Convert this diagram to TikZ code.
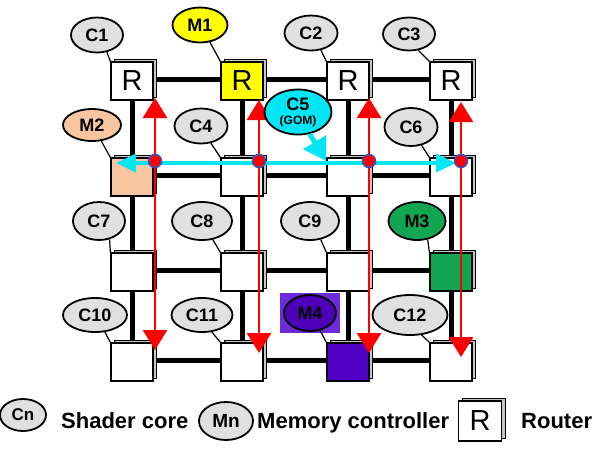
\documentclass[tikz,border=0pt]{standalone}
\usepackage{fontspec}
\setmainfont{Liberation Sans}
\usetikzlibrary{arrows.meta,shapes.geometric,shadows,backgrounds}
\definecolor{lgray}{HTML}{E0E0E0}
\definecolor{myyellow}{HTML}{FFFF00}
\definecolor{peach}{HTML}{F7C59F}
\definecolor{mycyan}{HTML}{00E6F5}
\definecolor{mygreen}{HTML}{12A552}
\definecolor{mypurple}{HTML}{5200C4}
\definecolor{sqpurple}{HTML}{6B2BD9}
\definecolor{elpurple}{HTML}{4D00B8}
\definecolor{dotblue}{HTML}{3355CC}
\begin{document}
\begin{tikzpicture}[x=1pt,y=-1pt,
  rbox/.style={draw=black,line width=1.3pt,fill=white,minimum width=42pt,minimum height=38pt,inner sep=0pt,
    general shadow={shadow xshift=3.5pt,shadow yshift=3pt,fill=gray!45,draw=black,line width=1pt},
    font=\fontsize{29}{29}\selectfont},
  lbl/.style={ellipse,draw=black,line width=1.8pt,fill=lgray,inner sep=0pt,font=\bfseries\fontsize{18}{19}\selectfont},
  tail/.style={black,line width=1.2pt},
  link/.style={line width=5pt,black},
  redarr/.style={red,line width=2.8pt,-{Triangle[width=24pt,length=20pt]}},
  cyanarr/.style={mycyan,line width=3.5pt,{Triangle[width=18pt,length=20pt]}-{Triangle[width=18pt,length=20pt]}},
  dot/.style={circle,fill=red,draw=dotblue,line width=1.5pt,minimum size=13pt,inner sep=0pt},
  legtext/.style={anchor=base west,inner sep=0pt,font=\bfseries\fontsize{22}{22}\selectfont}
]
\useasboundingbox (0,0) rectangle (602,448);

% routers
\node[rbox] (r11) at (132,81) {R};
\node[rbox,fill=myyellow] (r12) at (242,81) {R};
\node[rbox] (r13) at (348,81) {R};
\node[rbox] (r14) at (451,81) {R};
\node[rbox,fill=peach] (r21) at (132,177) {};
\node[rbox] (r22) at (242,177) {};
\node[rbox] (r23) at (348,177) {};
\node[rbox] (r24) at (451,177) {};
\node[rbox] (r31) at (132,272) {};
\node[rbox] (r32) at (242,272) {};
\node[rbox] (r33) at (348,272) {};
\node[rbox,fill=mygreen] (r34) at (451,272) {};
\node[rbox] (r41) at (132,362) {};
\node[rbox] (r42) at (242,362) {};
\node[rbox,fill=mypurple] (r43) at (348,362) {};
\node[rbox] (r44) at (451,362) {};

% links
\begin{scope}[on background layer]
  \foreach \r in {1,2,3,4}{
    \draw[link] ([yshift=2pt]r\r1.center) -- ([yshift=2pt]r\r2.center) -- ([yshift=2pt]r\r3.center) -- ([yshift=2pt]r\r4.center);
  }
  \foreach \c in {1,2,3,4}{
    \draw[link] (r1\c.center) -- (r2\c.center) -- (r3\c.center) -- (r4\c.center);
  }
\end{scope}

% labels
\node[lbl,minimum width=52pt,minimum height=35pt] (c1) at (97,35) {C1};
\node[lbl,minimum width=55pt,minimum height=35pt,fill=myyellow] (m1) at (200,25) {M1};
\node[lbl,minimum width=53pt,minimum height=35pt] (c2) at (311,33) {C2};
\node[lbl,minimum width=52pt,minimum height=33pt] (c3) at (409,34) {C3};
\node[lbl,minimum width=58pt,minimum height=32pt,fill=peach] (m2) at (92,125) {M2};
\node[lbl,minimum width=53pt,minimum height=35pt] (c4) at (201,126) {C4};
\node[lbl,minimum width=53pt,minimum height=38pt] (c6) at (411,127) {C6};
\node[lbl,minimum width=52pt,minimum height=38pt] (c7) at (99,221) {C7};
\node[lbl,minimum width=60pt,minimum height=38pt] (c8) at (202,221) {C8};
\node[lbl,minimum width=58pt,minimum height=38pt] (c9) at (310,221) {C9};
\node[lbl,minimum width=57pt,minimum height=38pt,fill=mygreen] (m3) at (417,221) {M3};
\node[lbl,minimum width=64pt,minimum height=34pt] (c10) at (95,315) {C10};
\node[lbl,minimum width=61pt,minimum height=34pt] (c11) at (202,315) {C11};
\node[fill=sqpurple,minimum width=60pt,minimum height=40pt,inner sep=0pt] (m4sq) at (310,313) {};
\node[lbl,minimum width=52pt,minimum height=36pt,fill=elpurple] (m4) at (310,313) {M4};
\node[lbl,minimum width=75pt,minimum height=40pt] (c12) at (410,315) {C12};

% tails
\draw[tail] (c1.-60) -- (r11.north west);
\draw[tail] (m1.-60) -- (r12.north west);
\draw[tail] (c2.-60) -- (r13.north west);
\draw[tail] (c3.-60) -- (r14.north west);
\draw[tail] (m2.-60) -- (r21.north west);
\draw[tail] (c4.-60) -- (r22.north west);
\draw[tail] (c6.-60) -- (r24.north west);
\draw[tail] (c7.-60) -- (r31.north west);
\draw[tail] (c8.-60) -- (r32.north west);
\draw[tail] (c9.-60) -- (r33.north west);
\draw[tail] (m3.-60) -- (r34.north west);
\draw[tail] (c10.-60) -- (r41.north west);
\draw[tail] (c11.-60) -- (r42.north west);
\draw[tail] (m4.-60) -- (r43.north west);
\draw[tail] (c12.-60) -- (r44.north west);

% cyan broadcast
\coordinate (cl) at (116,163);
\coordinate (cr) at (456,163);
\draw[cyanarr] (cl) -- (cr);

% red arrows
\coordinate (d1) at (155,161); \coordinate (t1) at (155,98);  \coordinate (b1) at (155,350);
\coordinate (d2) at (259,161); \coordinate (t2) at (259,100); \coordinate (b2) at (259,353);
\coordinate (d3) at (369,161); \coordinate (t3) at (369,98);  \coordinate (b3) at (369,353);
\coordinate (d4) at (461,161); \coordinate (t4) at (461,102); \coordinate (b4) at (461,357);
\foreach \i in {1,2,3,4}{
  \draw[redarr] (d\i) -- (t\i);
  \draw[redarr] (d\i) -- (b\i);
}
\foreach \i in {1,2,3,4}{ \node[dot] (dot\i) at (d\i) {}; }

% C5 (GOM)
\node[lbl,minimum width=67pt,minimum height=45pt,fill=mycyan,align=center] (c5) at (298,112)
  {C5\\[-5pt]{\bfseries\fontsize{12}{12}\selectfont (GOM)}};
\coordinate (c5tip) at (326,161);
\draw[mycyan,line width=5pt,-{Triangle[width=26pt,length=22pt]}] (c5.-62) -- (c5tip);

% legend
\node[lbl,minimum width=46pt,minimum height=32pt,font=\bfseries\fontsize{17}{17}\selectfont] (lc) at (23,415) {Cn};
\node[legtext] (lct) at (61,428) {Shader core};
\node[lbl,minimum width=54pt,minimum height=38pt,font=\bfseries\fontsize{19}{19}\selectfont] (lm) at (226,421) {Mn};
\node[legtext] (lmt) at (257,428) {Memory controller};
\node[rbox,minimum width=43pt,minimum height=40pt] (lr) at (480,421) {R};
\node[legtext] (lrt) at (521,428) {Router};
\end{tikzpicture}
\end{document}
